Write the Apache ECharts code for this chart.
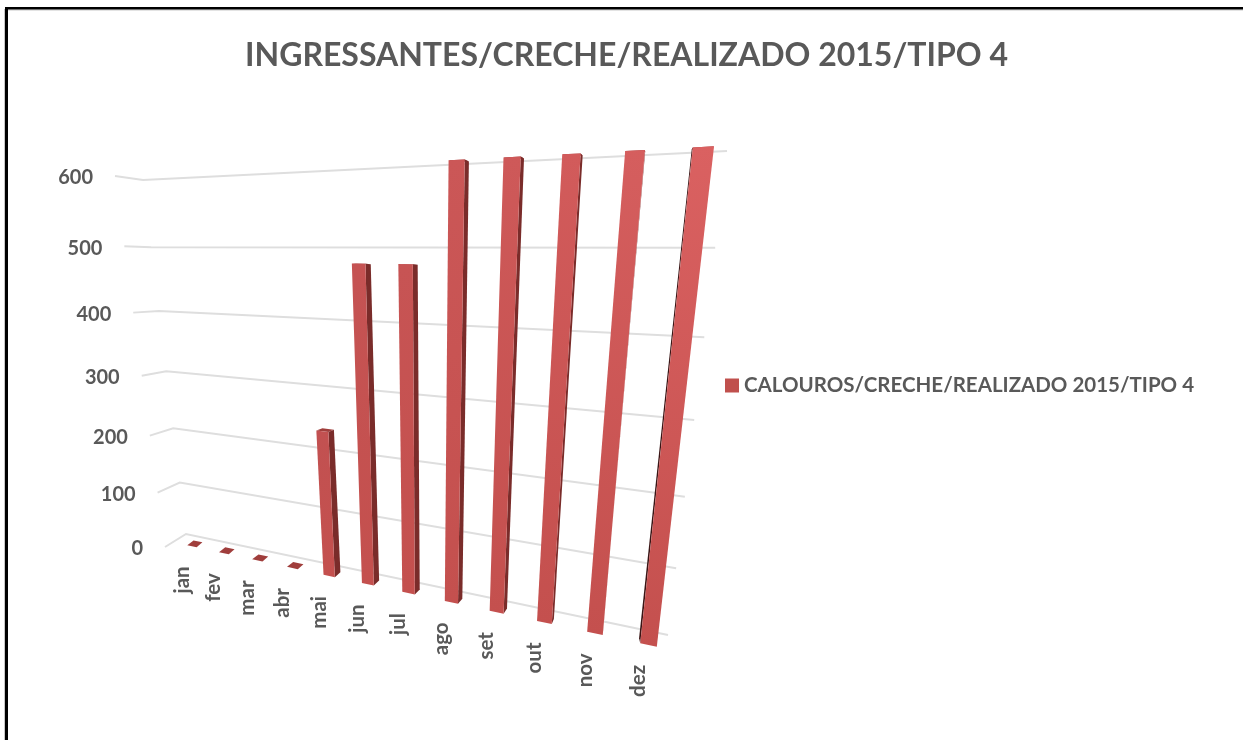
<!DOCTYPE html>
<html><head><meta charset="utf-8">
<style>html,body{margin:0;padding:0;background:#fff}#c{width:1243px;height:740px}</style>
<script src="https://cdn.jsdelivr.net/npm/echarts@6/dist/echarts.min.js"></script>
</head><body><div id="c"></div>
<script>
const chartTitle = 'INGRESSANTES/CRECHE/REALIZADO 2015/TIPO 4';
const seriesName = 'CALOUROS/CRECHE/REALIZADO 2015/TIPO 4';
const months = ['jan','fev','mar','abr','mai','jun','jul','ago','set','out','nov','dez'];
const realizado = [0,0,0,0,238,478,478,600,600,600,600,600];
const yTicks = [0,100,200,300,400,500,600];

// perspective planes of the 3D look: [bottom-left, bottom-right, top-right, top-left]
const wallQuad  = [[186,534],[668,635],[727,151],[143,180]];
const frontQuad = [[176.5,543],[676.5,651],[739.5,145],[133,177]];

function homography(q){
  const [p00,p10,p11,p01]=q;
  const dx1=p10[0]-p11[0],dx2=p01[0]-p11[0],sx=p00[0]-p10[0]+p11[0]-p01[0];
  const dy1=p10[1]-p11[1],dy2=p01[1]-p11[1],sy=p00[1]-p10[1]+p11[1]-p01[1];
  const D=dx1*dy2-dx2*dy1, g=(sx*dy2-dx2*sy)/D, h=(dx1*sy-sx*dy1)/D;
  const a=p10[0]-p00[0]+g*p10[0], b=p01[0]-p00[0]+h*p01[0];
  const d=p10[1]-p00[1]+g*p10[1], e=p01[1]-p00[1]+h*p01[1];
  return (u,v)=>{const w=g*u+h*v+1;return [(a*u+b*v+p00[0])/w,(d*u+e*v+p00[1])/w];};
}
const W=homography(wallQuad),F=homography(frontQuad);
// back of a bar: its front point moved along the depth direction of the view
function B(u,v,uc){const p=F(u,v);return [p[0]+6-9*Math.pow(uc,4),p[1]-5+7*v];}
const grey='#595959', font='Lato, "Noto Sans", sans-serif';

// plot-space conversion: library axes -> unit square -> perspective plane
function unit(api,params,cat,val){
  const c=api.coord([cat,val]),s=params.coordSys;
  return [(c[0]-s.x)/s.width,1-(c[1]-s.y)/s.height];
}
function gridItem(params,api){
  const val=api.value(0);
  const t=unit(api,params,0,val)[1];
  const a=W(0,t), b=W(1,t);
  const end=[a[0]-21-7*t,a[1]+13-17*t];
  return {type:'group',children:[
    {type:'polyline',shape:{points:[end,a,b]},style:{stroke:'#DEDEDE',lineWidth:2,fill:null},silent:true},
    {type:'text',x:end[0]-22,y:end[1]+2,style:{text:String(val),textAlign:'right',textVerticalAlign:'middle',fill:grey,font:'bold 20px '+font},silent:true}
  ]};
}
function catItem(params,api){
  const i=api.value(0);
  const u=unit(api,params,i,0)[0], p=F(u,0);
  return {type:'text',x:p[0]-10,y:p[1]+20,rotation:Math.PI/2,
    style:{x:0,y:0,text:months[i],textAlign:'right',textVerticalAlign:'middle',fill:grey,font:'bold 20.5px '+font},silent:true};
}
function barItem(params,api){
  const i=api.value(0), val=api.value(1);
  const uv=unit(api,params,i,val), u=uv[0], v=uv[1];
  const du=api.size([1,0])[0]/params.coordSys.width*0.15, db=du*0.95;
  const f=[F(u-du,0),F(u+du,0),F(u+du,v),F(u-du,v)];
  const k=[B(u-db,0,u),B(u+db,0,u),B(u+db,v,u),B(u-db,v,u)];
  const kids=[];
  kids.push({type:'polygon',shape:{points:[f[3],f[2],k[2],k[3]]},style:{fill:'#A03E3C'},silent:true});
  if(k[2][0]>f[2][0]) kids.push({type:'polygon',shape:{points:[f[1],k[1],k[2],f[2]]},style:{fill:'#7A2C2A'},silent:true});
  if(k[3][0]<f[3][0]) kids.push({type:'polygon',shape:{points:[f[0],k[0],k[3],f[3]]},style:{fill:'#3A1515'},silent:true});
  if(v>0){
    const hi=Math.round(0xC0+(0xDC-0xC0)*u*u*v).toString(16), hg=Math.round(0x50+(0x62-0x50)*u*u*v).toString(16);
    kids.push({type:'polygon',shape:{points:f},silent:true,style:{fill:{type:'linear',x:0,y:1,x2:0,y2:0,
      colorStops:[{offset:0,color:'#C4504E'},{offset:1,color:'#'+hi+hg+hg}]}}});
  }
  return {type:'group',children:kids};
}
const chart=echarts.init(document.getElementById('c'),null,{renderer:'canvas'});
chart.setOption({
  animation:false,backgroundColor:'#fff',
  title:{text:chartTitle,left:240,top:35,textStyle:{color:grey,fontFamily:font,fontWeight:'bold',fontSize:32}},
  legend:{data:[seriesName],left:720,top:370,itemWidth:14,itemHeight:14,itemGap:5,icon:'rect',selectedMode:false,
    textStyle:{color:grey,fontFamily:font,fontWeight:'bold',fontSize:20.5}},
  grid:{left:140,right:500,top:150,bottom:190},
  xAxis:{type:'category',data:months,show:false},
  yAxis:{type:'value',min:0,max:600,interval:100,show:false},
  graphic:[
    {type:'rect',silent:true,shape:{x:4,y:9,width:1,height:731},style:{fill:'#C8C8C8'}},
    {type:'rect',silent:true,shape:{x:8,y:9.5,width:1235,height:1},style:{fill:'#C8C8C8'}},
    {type:'rect',silent:true,shape:{x:5,y:7,width:3,height:733},style:{fill:'#000'}},
    {type:'rect',silent:true,shape:{x:5,y:7,width:1238,height:2.5},style:{fill:'#000'}}
  ],
  series:[
    {type:'custom',name:'grade',renderItem:gridItem,data:yTicks.map(t=>[t]),encode:{y:0},silent:true,z:1},
    {type:'custom',name:'meses',renderItem:catItem,data:months.map((m,i)=>[i]),encode:{x:0},silent:true,z:1},
    {type:'custom',name:seriesName,renderItem:barItem,data:realizado.map((x,i)=>[i,x]),encode:{x:0,y:1},itemStyle:{color:'#C0504D'},silent:true,z:2}
  ]
});
</script></body></html>
